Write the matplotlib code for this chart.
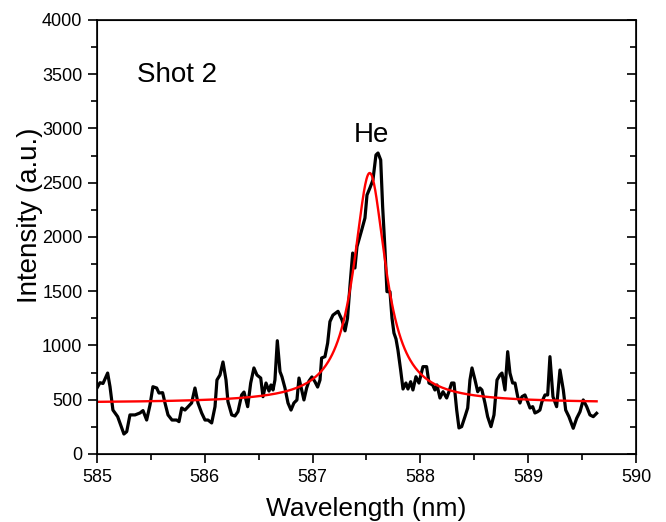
import matplotlib
matplotlib.use("Agg")
import matplotlib.pyplot as plt
import numpy as np
from matplotlib.ticker import MultipleLocator

plt.rcParams['font.family'] = ['Liberation Sans', 'DejaVu Sans']

wavelength = [585.000, 585.028, 585.056, 585.099, 585.121, 585.148, 585.192, 585.250, 585.276, 585.306,
              585.353, 585.399, 585.427, 585.461, 585.492, 585.519, 585.554, 585.575, 585.609, 585.631,
              585.659, 585.696, 585.739, 585.761, 585.786, 585.816, 585.878, 585.909, 585.937, 585.971,
              586.002, 586.030, 586.064, 586.095, 586.113, 586.141, 586.169, 586.197, 586.215, 586.250,
              586.280, 586.308, 586.342, 586.364, 586.398, 586.426, 586.456, 586.484, 586.519, 586.540,
              586.568, 586.596, 586.614, 586.633, 586.651, 586.673, 586.698, 586.716, 586.744, 586.772,
              586.800, 586.827, 586.855, 586.874, 586.899, 586.920, 586.945, 586.967, 586.994, 587.022,
              587.047, 587.069, 587.084, 587.115, 587.140, 587.161, 587.189, 587.236, 587.273, 587.301,
              587.324, 587.347, 587.372, 587.393, 587.412, 587.456, 587.486, 587.505, 587.532, 587.560,
              587.588, 587.607, 587.632, 587.650, 587.672, 587.690, 587.718, 587.737, 587.755, 587.774,
              587.792, 587.817, 587.839, 587.866, 587.885, 587.910, 587.931, 587.959, 587.987, 588.024,
              588.058, 588.080, 588.114, 588.135, 588.154, 588.182, 588.210, 588.244, 588.265, 588.290,
              588.312, 588.337, 588.358, 588.383, 588.414, 588.439, 588.460, 588.479, 588.507, 588.532,
              588.553, 588.571, 588.599, 588.624, 588.655, 588.683, 588.711, 588.738, 588.757, 588.785,
              588.810, 588.831, 588.856, 588.878, 588.903, 588.924, 588.942, 588.970, 588.995, 589.017,
              589.042, 589.063, 589.088, 589.109, 589.128, 589.156, 589.181, 589.202, 589.230, 589.264,
              589.295, 589.326, 589.348, 589.378, 589.418, 589.450, 589.481, 589.511, 589.543, 589.573,
              589.604, 589.635]

intensity = [608, 657, 650, 746, 620, 405, 344, 184, 206, 360,
             360, 378, 400, 313, 452, 620, 608, 562, 565, 470,
             360, 313, 313, 298, 424, 405, 470, 608, 470, 378,
             313, 313, 286, 436, 682, 728, 848, 682, 482, 360,
             350, 390, 544, 571, 436, 654, 793, 728, 700, 528,
             654, 580, 636, 590, 682, 1044, 759, 712, 608, 470,
             405, 470, 498, 700, 590, 498, 608, 673, 710, 666,
             617, 682, 885, 897, 1023, 1220, 1280, 1315, 1235, 1135,
             1250, 1550, 1852, 1714, 1911, 2065, 2175, 2387, 2452, 2525,
             2756, 2774, 2710, 2280, 1880, 1496, 1496, 1250, 1115, 1060,
             958, 774, 599, 654, 599, 666, 590, 712, 654, 805,
             805, 654, 636, 590, 636, 516, 574, 516, 574, 654,
             654, 405, 240, 252, 345, 424, 682, 793, 682, 574,
             608, 590, 470, 344, 252, 360, 682, 728, 746, 590,
             943, 746, 654, 654, 528, 470, 528, 544, 482, 424,
             436, 378, 390, 405, 482, 544, 544, 897, 528, 436,
             774, 590, 405, 344, 237, 329, 390, 498, 436, 360,
             344, 375]

# Lorentzian fit parameters
fit_center = 587.53
fit_fwhm = 0.36
fit_amplitude = 2120
fit_baseline = 470

fit_x = np.linspace(wavelength[0], wavelength[-1], 800)
fit_y = fit_baseline + fit_amplitude / (1 + ((fit_x - fit_center) / (fit_fwhm / 2)) ** 2)

fig = plt.figure(figsize=(6.66, 5.22), dpi=100)
ax = fig.add_axes([0.1456, 0.1303, 0.8093, 0.8314])

ax.plot(wavelength, intensity, color='black', lw=2.3, zorder=2)
ax.plot(fit_x, fit_y, color='#ff0000', lw=1.7, zorder=3)

ax.set_xlim(585, 590)
ax.set_ylim(0, 4000)
ax.xaxis.set_major_locator(MultipleLocator(1))
ax.xaxis.set_minor_locator(MultipleLocator(0.5))
ax.yaxis.set_major_locator(MultipleLocator(500))
ax.yaxis.set_minor_locator(MultipleLocator(250))

ax.tick_params(axis='both', which='major', direction='out', length=6.5, width=1.2,
               labelsize=13, top=False, right=False, pad=4)
ax.tick_params(axis='both', which='minor', direction='out', length=4, width=1.2,
               top=False, right=False)
for s in ax.spines.values():
    s.set_linewidth(1.2)

# inward ticks on the right spine
ax2 = ax.twinx()
ax2.set_ylim(0, 4000)
ax2.yaxis.set_major_locator(MultipleLocator(500))
ax2.yaxis.set_minor_locator(MultipleLocator(250))
ax2.tick_params(axis='y', which='major', direction='in', length=6.5, width=1.2, labelright=False)
ax2.tick_params(axis='y', which='minor', direction='in', length=4, width=1.2)

ax.set_xlabel('Wavelength (nm)', fontsize=19, labelpad=8)
ax.set_ylabel('Intensity (a.u.)', fontsize=20)
ax.yaxis.set_label_coords(-0.100, 0.55)

ax.text(585.37, 3490, 'Shot 2', fontsize=20, ha='left', va='center')
ax.text(587.55, 2940, 'He', fontsize=20, ha='center', va='center')

fig.savefig('out.png', dpi=100)
